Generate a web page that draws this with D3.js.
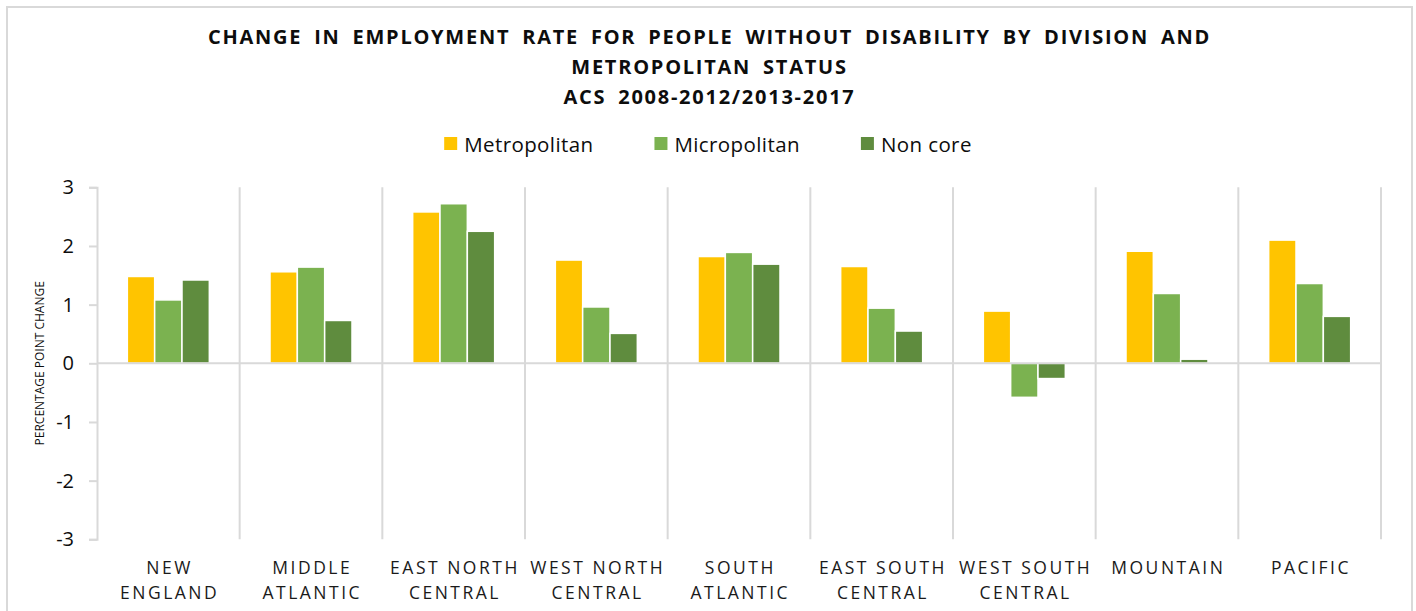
<!DOCTYPE html>
<html>
<head>
<meta charset="utf-8">
<script src="https://cdn.jsdelivr.net/npm/d3@7"></script>
<style>
  body { margin: 0; background: #fff; }
  svg { display: block; }
  text { font-family: "Open Sans", sans-serif; }
</style>
</head>
<body>
<svg id="chart" width="1416" height="611"></svg>
<script>
// Census divisions (label lines) and the three metropolitan-status series
const divisions = ["NEW ENGLAND", "MIDDLE ATLANTIC", "EAST NORTH CENTRAL", "WEST NORTH CENTRAL",
  "SOUTH ATLANTIC", "EAST SOUTH CENTRAL", "WEST SOUTH CENTRAL", "MOUNTAIN", "PACIFIC"];
const divisionLabelLines = [["NEW", "ENGLAND"], ["MIDDLE", "ATLANTIC"], ["EAST NORTH", "CENTRAL"],
  ["WEST NORTH", "CENTRAL"], ["SOUTH", "ATLANTIC"], ["EAST SOUTH", "CENTRAL"],
  ["WEST SOUTH", "CENTRAL"], ["MOUNTAIN"], ["PACIFIC"]];
const seriesNames = ["Metropolitan", "Micropolitan", "Non core"];
const metropolitan = [1.48, 1.56, 2.58, 1.76, 1.82, 1.65, 0.89, 1.91, 2.10];
const micropolitan = [1.08, 1.64, 2.72, 0.96, 1.89, 0.94, -0.58, 1.19, 1.36];
const nonCore      = [1.42, 0.73, 2.25, 0.51, 1.69, 0.55, -0.26, 0.07, 0.80];
const yTicks = [-3, -2, -1, 0, 1, 2, 3];
const titleLines = ["CHANGE IN EMPLOYMENT RATE FOR PEOPLE WITHOUT DISABILITY BY DIVISION AND",
  "METROPOLITAN STATUS", "ACS 2008-2012/2013-2017"];
const yAxisTitle = "PERCENTAGE POINT CHANGE";

const colors = ["#FFC400", "#7BB250", "#5F8C3E"];
const seriesValues = [metropolitan, micropolitan, nonCore];

const plot = { left: 97, right: 1381, top: 187.3, bottom: 539.3 };
const gridColor = "#d9d9d9";

const svg = d3.select("#chart");

// outer chart frame
svg.append("rect")
  .attr("x", 7).attr("y", 7).attr("width", 1405).attr("height", 640)
  .attr("fill", "none").attr("stroke", gridColor).attr("stroke-width", 2);

const x0 = d3.scaleBand().domain(divisions).range([plot.left, plot.right]).padding(0);
const x1 = d3.scaleBand().domain(seriesNames).range([0, x0.bandwidth()])
  .paddingInner(0).paddingOuter(1.11);
const y = d3.scaleLinear().domain([-3, 3]).range([plot.bottom, plot.top]);

// title
const title = svg.append("g").attr("font-weight", 700).attr("font-size", 20)
  .attr("fill", "#0d0d0d").attr("text-anchor", "middle");
titleLines.forEach((t, i) => {
  title.append("text")
    .attr("x", 709.5).attr("y", [43.5, 73.5, 104][i])
    .attr("letter-spacing", 1.75).attr("word-spacing", 5)
    .text(t);
});

// legend
const legend = svg.append("g");
const items = legend.selectAll("g").data(seriesNames).join("g");
items.append("rect").attr("width", 13).attr("height", 13).attr("y", 137)
  .attr("fill", (d, i) => colors[i]);
items.append("text").attr("y", 151.5).attr("font-size", 20.5).attr("fill", "#0d0d0d")
  .attr("letter-spacing", 0.4)
  .text(d => d);
const widths = [];
items.each(function () { widths.push(this.querySelector("text").getComputedTextLength()); });
const itemGap = 61, swatchGap = 7;
const total = d3.sum(widths) + widths.length * (13 + swatchGap) + (widths.length - 1) * itemGap;
let cx = 708 - total / 2;
items.each(function (d, i) {
  const g = d3.select(this);
  g.select("rect").attr("x", cx);
  g.select("text").attr("x", cx + 13 + swatchGap);
  cx += 13 + swatchGap + widths[i] + itemGap;
});

// category separators
const boundaries = divisions.map(d => x0(d)).concat([x0(divisions[divisions.length - 1]) + x0.bandwidth()]);
svg.append("g").selectAll("line").data(boundaries.slice(1)).join("line")
  .attr("x1", d => d).attr("x2", d => d)
  .attr("y1", plot.top).attr("y2", plot.bottom)
  .attr("stroke", gridColor).attr("stroke-width", 2);

// y axis
const yAxis = svg.append("g").attr("transform", `translate(${plot.left},0)`)
  .call(d3.axisLeft(y).tickValues(yTicks).tickFormat(d => String(d)).tickSize(8).tickPadding(15));
yAxis.select(".domain").attr("stroke", gridColor).attr("stroke-width", 2);
yAxis.selectAll(".tick line").attr("stroke", gridColor).attr("stroke-width", 2);
yAxis.selectAll(".tick text").attr("font-size", 20).attr("fill", "#0d0d0d")
  .attr("font-family", "\"Open Sans\", sans-serif");

svg.append("text")
  .attr("transform", `translate(44,${(plot.top + plot.bottom) / 2}) rotate(-90)`)
  .attr("text-anchor", "middle").attr("font-size", 12).attr("fill", "#0d0d0d")
  .text(yAxisTitle);

// bars
const groups = svg.append("g").selectAll("g").data(divisions).join("g")
  .attr("transform", d => `translate(${x0(d)},0)`);
groups.selectAll("rect")
  .data((d, i) => seriesNames.map((s, j) => ({ s, j, v: seriesValues[j][i] })))
  .join("rect")
  .attr("x", d => x1(d.s))
  .attr("width", x1.bandwidth())
  .attr("y", d => y(Math.max(0, d.v)))
  .attr("height", d => Math.abs(y(d.v) - y(0)))
  .attr("fill", d => colors[d.j])
  .attr("stroke", "#ffffff").attr("stroke-width", 1.5);

// zero line
svg.append("line")
  .attr("x1", plot.left).attr("x2", plot.right)
  .attr("y1", y(0)).attr("y2", y(0))
  .attr("stroke", gridColor).attr("stroke-width", 2);

// category labels
const labels = svg.append("g").attr("font-size", 17.5).attr("fill", "#1a1a1a").attr("text-anchor", "middle");
divisions.forEach((d, i) => {
  divisionLabelLines[i].forEach((line, k) => {
    labels.append("text")
      .attr("x", x0(d) + x0.bandwidth() / 2 + 1.3)
      .attr("y", 574 + k * 25)
      .attr("letter-spacing", 2.5)
      .text(line);
  });
});
</script>
</body>
</html>
